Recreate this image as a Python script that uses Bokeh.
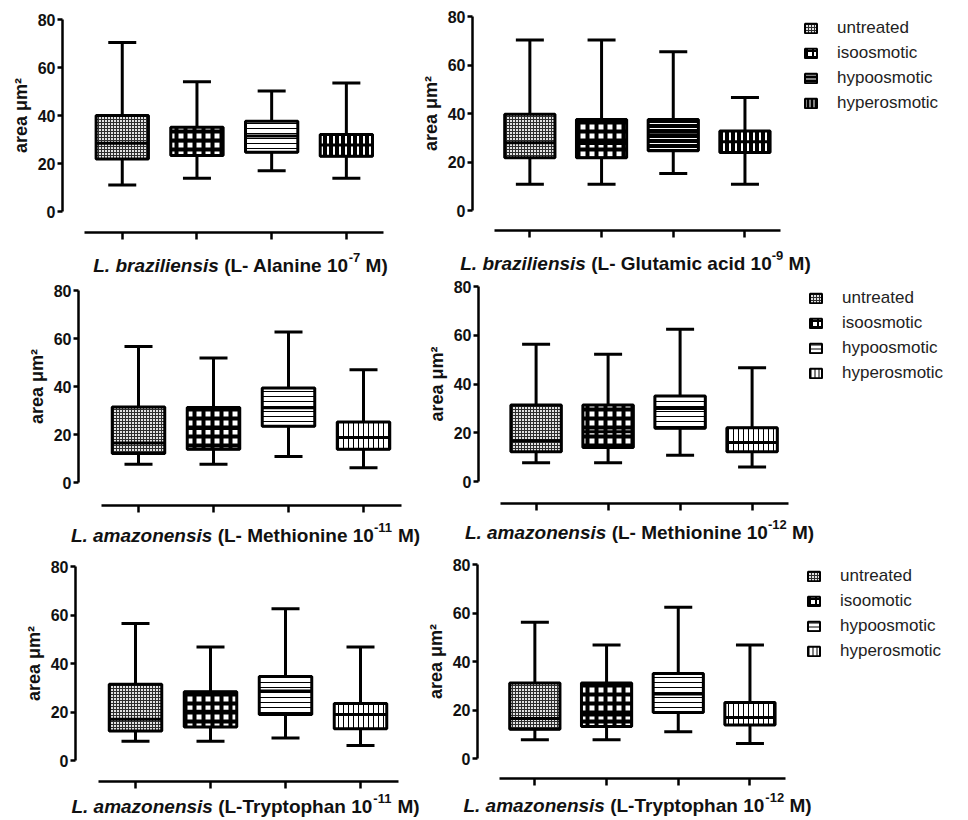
from bokeh.plotting import figure
from bokeh.layouts import column, row
from bokeh.models import Range1d, FixedTicker, Label, Legend, LegendItem
from bokeh.embed import file_html
from bokeh.resources import INLINE

# ---------------- data ----------------
GROUP_X = [1, 2, 3, 4]
LEGEND_LABELS = ["untreated", "isoosmotic", "hypoosmotic", "hyperosmotic"]
LEGEND_LABELS_P6 = ["untreated", "isoomotic", "hypoosmotic", "hyperosmotic"]

# L. braziliensis, L-Alanine 1e-7 M
ala7_low = [11.0, 13.9, 17.0, 13.9]
ala7_q1 = [21.9, 23.3, 24.7, 23.0]
ala7_med = [28.4, 29.5, 31.5, 27.7]
ala7_q3 = [40.0, 35.1, 37.6, 32.1]
ala7_high = [70.4, 54.1, 50.2, 53.5]

# L. braziliensis, L-Glutamic acid 1e-9 M
glu9_low = [10.8, 10.8, 15.3, 10.8]
glu9_q1 = [21.8, 21.8, 24.6, 23.9]
glu9_med = [27.9, 27.6, 31.2, 28.4]
glu9_q3 = [39.7, 37.5, 37.5, 32.8]
glu9_high = [70.3, 70.3, 65.5, 46.6]

# L. amazonensis, L-Methionine 1e-11 M
met11_low = [7.6, 7.6, 10.8, 6.1]
met11_q1 = [12.1, 13.9, 23.4, 13.9]
met11_med = [16.5, 22.5, 31.1, 18.7]
met11_q3 = [31.5, 31.3, 39.4, 25.2]
met11_high = [56.7, 51.9, 62.7, 47.0]

# L. amazonensis, L-Methionine 1e-12 M
met12_low = [7.7, 7.7, 10.8, 6.0]
met12_q1 = [12.2, 14.0, 21.8, 12.2]
met12_med = [16.7, 20.4, 30.0, 16.0]
met12_q3 = [31.4, 31.4, 35.1, 22.1]
met12_high = [56.3, 52.2, 62.5, 46.7]

# L. amazonensis, L-Tryptophan 1e-11 M
trp11_low = [7.9, 7.9, 9.3, 6.2]
trp11_q1 = [12.2, 13.8, 19.0, 13.1]
trp11_med = [17.0, 20.3, 28.7, 19.0]
trp11_q3 = [31.4, 28.4, 34.6, 23.5]
trp11_high = [56.5, 46.8, 62.6, 46.8]

# L. amazonensis, L-Tryptophan 1e-12 M
trp12_low = [7.7, 7.7, 11.0, 6.2]
trp12_q1 = [12.1, 13.2, 19.0, 13.8]
trp12_med = [16.5, 17.9, 26.6, 16.9]
trp12_q3 = [31.1, 31.1, 35.1, 23.1]
trp12_high = [56.2, 46.8, 62.4, 46.8]

SPECIES = ["L. braziliensis", "L. braziliensis", "L. amazonensis",
           "L. amazonensis", "L. amazonensis", "L. amazonensis"]
COMPOUND = ["(L- Alanine 10", "(L- Glutamic acid 10", "(L- Methionine 10",
            "(L- Methionine 10", "(L-Tryptophan 10", "(L-Tryptophan 10"]
EXPONENT = ["-7", "-9", "-11", "-12", "-11", "-12"]
UNIT = "M)"
Y_TICKS = [0, 20, 40, 60, 80]

# ---------------- styling ----------------
FONT = "Liberation Sans"
BOX_W = 0.7
LW = 3

ST_UNTREATED = dict(fill_color="#e2e2e2", hatch_pattern="+", hatch_color="#2e2e2e", hatch_scale=3, hatch_weight=1)
ST_ISO = dict(fill_color="white", hatch_pattern="+", hatch_color="black", hatch_scale=9, hatch_weight=4)
ST_HYPO_LIGHT = dict(fill_color="white", hatch_pattern="-", hatch_color="black", hatch_scale=5, hatch_weight=1)
ST_HYPO_DARK = dict(fill_color="black", hatch_pattern="-", hatch_color="white", hatch_scale=5, hatch_weight=1)
ST_HYPER_LIGHT = dict(fill_color="white", hatch_pattern="|", hatch_color="black", hatch_scale=5, hatch_weight=1)
ST_HYPER_DARK = dict(fill_color="black", hatch_pattern="|", hatch_color="white", hatch_scale=6, hatch_weight=2)

# legend swatches use a finer version of each pattern so it shows in a small box
LEG_ST = {
    id(ST_UNTREATED): dict(ST_UNTREATED),
    id(ST_ISO): dict(ST_ISO, hatch_scale=6, hatch_weight=2),
    id(ST_HYPO_LIGHT): dict(ST_HYPO_LIGHT, hatch_scale=4),
    id(ST_HYPO_DARK): dict(ST_HYPO_DARK, hatch_scale=4),
    id(ST_HYPER_LIGHT): dict(ST_HYPER_LIGHT, hatch_scale=4),
    id(ST_HYPER_DARK): dict(ST_HYPER_DARK, hatch_scale=4, hatch_weight=1),
}

# Helvetica/Arial bold advance widths (per 1000 em) for title layout
HB = {" ": 278, ".": 278, "(": 333, ")": 333, "-": 333, "A": 722, "G": 778, "L": 611,
      "M": 833, "T": 611, "a": 556, "b": 611, "c": 556, "d": 611, "e": 556, "h": 611,
      "i": 278, "l": 278, "m": 889, "n": 611, "o": 611, "p": 611, "r": 389, "s": 556,
      "t": 333, "u": 611, "y": 556, "z": 500}


def tw(s, px):
    return sum(HB.get(c, 556) for c in s) * px / 1000.0


# page geometry (pixels): figure box, y-axis x, y=80 / y=0 rows, x-axis row,
# category spacing, title centre/baseline, legend glyph left
LAYOUT = [
    dict(FX=0, FY=0, W=420, H=278, fl=62, y80=19, y0=211, ax=232, sp=74.7, tc=240, tb=265),
    dict(FX=420, FY=0, W=546, H=278, fl=472, y80=16, y0=210, ax=230, sp=71.7, tc=635, tb=263, lg=803),
    dict(FX=0, FY=278, W=420, H=276, fl=78, y80=290, y0=482, ax=505, sp=75.0, tc=245, tb=535),
    dict(FX=420, FY=278, W=546, H=276, fl=478, y80=286, y0=481, ax=503, sp=72.0, tc=639, tb=532, lg=808),
    dict(FX=0, FY=554, W=420, H=264, fl=75, y80=566, y0=760, ax=781, sp=75.0, tc=245, tb=806),
    dict(FX=420, FY=554, W=546, H=264, fl=477, y80=564, y0=758, ax=778, sp=71.7, tc=637, tb=805, lg=806),
]

PANELS = [
    (ala7_low, ala7_q1, ala7_med, ala7_q3, ala7_high, [ST_UNTREATED, ST_ISO, ST_HYPO_LIGHT, ST_HYPER_DARK], None),
    (glu9_low, glu9_q1, glu9_med, glu9_q3, glu9_high, [ST_UNTREATED, ST_ISO, ST_HYPO_DARK, ST_HYPER_DARK], LEGEND_LABELS),
    (met11_low, met11_q1, met11_med, met11_q3, met11_high, [ST_UNTREATED, ST_ISO, ST_HYPO_LIGHT, ST_HYPER_LIGHT], None),
    (met12_low, met12_q1, met12_med, met12_q3, met12_high, [ST_UNTREATED, ST_ISO, ST_HYPO_LIGHT, ST_HYPER_LIGHT], LEGEND_LABELS),
    (trp11_low, trp11_q1, trp11_med, trp11_q3, trp11_high, [ST_UNTREATED, ST_ISO, ST_HYPO_LIGHT, ST_HYPER_LIGHT], None),
    (trp12_low, trp12_q1, trp12_med, trp12_q3, trp12_high, [ST_UNTREATED, ST_ISO, ST_HYPO_LIGHT, ST_HYPER_LIGHT], LEGEND_LABELS_P6),
]

X_AT_YAXIS = 0.2


def make_panel(k):
    low, q1, med, q3, high, styles, legend_labels = PANELS[k]
    L = LAYOUT[k]
    sp = L["sp"]
    ppu = (L["y0"] - L["y80"]) / 80.0

    def xd(px):  # page x -> data x
        return X_AT_YAXIS + (px - L["fl"]) / sp

    def yd(py):  # page y -> data y
        return (L["y0"] - py) / ppu

    p = figure(frame_width=L["W"], frame_height=L["H"], min_border=0,
               min_border_left=0, min_border_right=0, min_border_top=0, min_border_bottom=0,
               x_range=Range1d(xd(L["FX"]), xd(L["FX"] + L["W"])),
               y_range=Range1d(yd(L["FY"] + L["H"]), yd(L["FY"])),
               output_backend="svg", toolbar_location=None, tools="")
    p.outline_line_color = None
    p.grid.visible = False
    p.background_fill_color = "white"
    p.border_fill_color = "white"

    ya = p.yaxis[0]
    ya.fixed_location = X_AT_YAXIS
    ya.bounds = (0, 80)
    ya.ticker = FixedTicker(ticks=Y_TICKS)
    ya.minor_tick_line_color = None
    ya.major_tick_in = 0
    ya.major_tick_out = 5
    ya.axis_line_width = 2.5
    ya.major_tick_line_width = 2.5
    ya.axis_line_color = "black"
    ya.major_tick_line_color = "black"
    ya.major_label_text_font = FONT
    ya.major_label_text_font_style = "bold"
    ya.major_label_text_font_size = "16px"
    ya.major_label_text_color = "#111111"
    ya.major_label_standoff = 2
    ya.axis_label = "area μm²"
    ya.axis_label_text_font = FONT
    ya.axis_label_text_font_style = "bold"
    ya.axis_label_text_font_size = "18px"
    ya.axis_label_text_color = "#111111"
    ya.axis_label_standoff = 4

    xa = p.xaxis[0]
    xa.fixed_location = yd(L["ax"])
    xa.bounds = (0.5, 4.5)
    xa.ticker = FixedTicker(ticks=GROUP_X)
    xa.minor_tick_line_color = None
    xa.major_tick_in = 0
    xa.major_tick_out = 7
    xa.axis_line_width = 2.5
    xa.major_tick_line_width = 2.5
    xa.axis_line_color = "black"
    xa.major_tick_line_color = "black"
    xa.major_label_overrides = {g: "" for g in GROUP_X}
    xa.major_label_standoff = 0

    swatches = []
    for i, x in enumerate(GROUP_X):
        p.segment(x0=[x], y0=[low[i]], x1=[x], y1=[high[i]], line_width=LW, line_color="black")
        # legend swatch renderer (same box, finer pattern; fully covered by the box drawn next)
        swatches.append(p.vbar(x=[x], width=BOX_W, bottom=[q1[i]], top=[q3[i]],
                               line_color="black", line_width=2, **LEG_ST[id(styles[i])]))
        p.vbar(x=[x], width=BOX_W, bottom=[q1[i]], top=[q3[i]],
               line_color="black", line_width=LW, **styles[i])
        p.segment(x0=[x - BOX_W / 2], y0=[med[i]], x1=[x + BOX_W / 2], y1=[med[i]],
                  line_width=LW, line_color="black")
        p.scatter(x=[x, x], y=[low[i], high[i]], marker="dash", size=28,
                  line_width=LW, line_color="black")

    # x-axis title built from styled pieces (species in italics, superscript exponent);
    # (text, style, font px, rise px, space before)
    fs, sup_fs = 19, 13
    pieces = [(SPECIES[k], "bold italic", fs, 0, 0.0),
              (COMPOUND[k], "bold", fs, 0, tw(" ", fs)),
              (EXPONENT[k], "bold", sup_fs, 8, 0.0),
              (UNIT, "bold", fs, 0, tw(" ", fs))]
    total = sum(tw(t, s) + gap for t, _, s, _, gap in pieces)
    px = L["tc"] - total / 2.0
    for t, style, s, rise, gap in pieces:
        px += gap
        p.add_layout(Label(x=xd(px), y=yd(L["tb"] - rise),
                           text=t, text_font=FONT, text_font_style=style,
                           text_font_size=f"{s}px", text_color="#111111",
                           text_align="left", text_baseline="alphabetic"))
        px += tw(t, s)

    if legend_labels is not None:
        n = len(legend_labels)
        leg_h = n * 20 + (n - 1) * 5
        vx = L["lg"] - L["FX"]
        vy = (L["FY"] + L["H"]) - (L["y80"] + 2) - leg_h
        legend = Legend(items=[LegendItem(label=lab, renderers=[r]) for lab, r in zip(legend_labels, swatches)],
                        location=(vx, vy), orientation="vertical",
                        glyph_width=15, glyph_height=12, label_standoff=19,
                        label_text_font=FONT, label_text_font_size="17px",
                        label_text_color="#222222", label_height=12,
                        spacing=5, padding=0, margin=0,
                        border_line_color=None, background_fill_alpha=0)
        p.add_layout(legend, "center")
    return p


figs = [make_panel(k) for k in range(6)]
layout = column(row(figs[0], figs[1]), row(figs[2], figs[3]), row(figs[4], figs[5]))

open("out.html", "w").write(file_html(layout, INLINE))
